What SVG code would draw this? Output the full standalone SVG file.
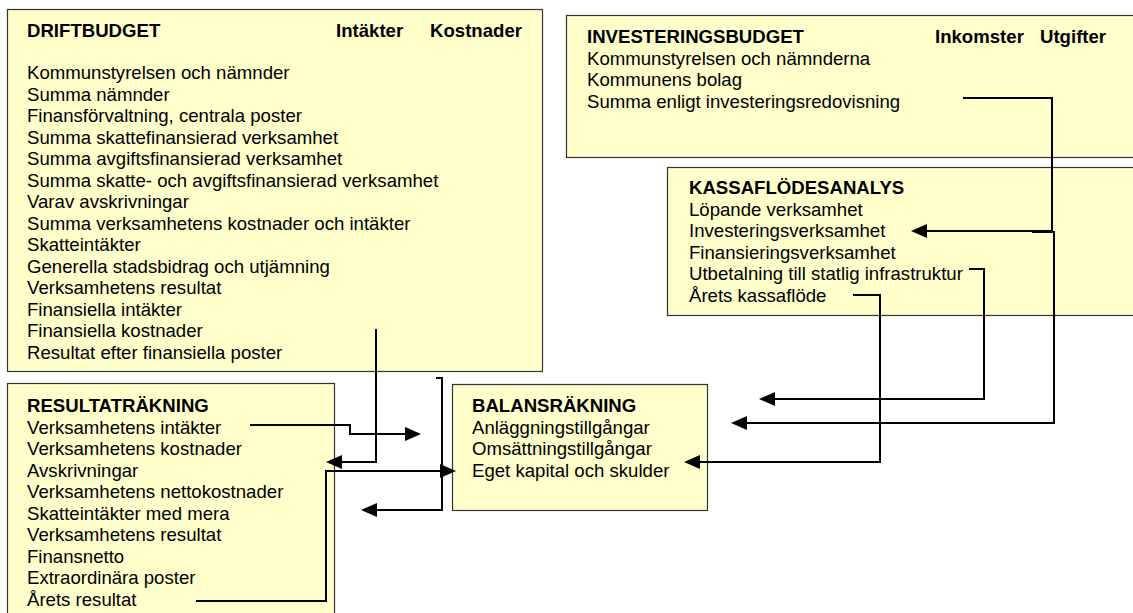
<svg xmlns="http://www.w3.org/2000/svg" width="1133" height="613" viewBox="0 0 1133 613">
<defs>
<style>
.box{fill:#FFFFCC;stroke:#333;stroke-width:1.2}
text{font-family:"Liberation Sans",Arial,sans-serif;font-size:18.6px;fill:#000}
.b{font-weight:bold}
.c{fill:none;stroke:#000;stroke-width:2}
</style>
<marker id="ah" markerUnits="userSpaceOnUse" markerWidth="16" markerHeight="14" refX="8" refY="7" orient="auto">
<path d="M0,0 L16,7 L0,14 z" fill="#000"/>
</marker>
</defs>
<rect width="1133" height="613" fill="#fff"/>

<g id="driftbudget">
<rect class="box" x="7.5" y="9.5" width="535" height="362"/>
<text class="b" x="27" y="37">DRIFTBUDGET</text>
<text class="b" x="336" y="37">Intäkter</text>
<text class="b" x="430" y="37">Kostnader</text>
<text x="27" y="79">Kommunstyrelsen och nämnder</text>
<text x="27" y="100.5">Summa nämnder</text>
<text x="27" y="122">Finansförvaltning, centrala poster</text>
<text x="27" y="143.5">Summa skattefinansierad verksamhet</text>
<text x="27" y="165">Summa avgiftsfinansierad verksamhet</text>
<text x="27" y="186.5">Summa skatte- och avgiftsfinansierad verksamhet</text>
<text x="27" y="208">Varav avskrivningar</text>
<text x="27" y="229.5">Summa verksamhetens kostnader och intäkter</text>
<text x="27" y="251">Skatteintäkter</text>
<text x="27" y="272.5">Generella stadsbidrag och utjämning</text>
<text x="27" y="294">Verksamhetens resultat</text>
<text x="27" y="315.5">Finansiella intäkter</text>
<text x="27" y="337">Finansiella kostnader</text>
<text x="27" y="358.5">Resultat efter finansiella poster</text>
</g>

<g id="investeringsbudget">
<rect class="box" x="566.5" y="15.5" width="580" height="142"/>
<text class="b" x="587" y="43">INVESTERINGSBUDGET</text>
<text class="b" x="935" y="43">Inkomster</text>
<text class="b" x="1040" y="43">Utgifter</text>
<text x="587" y="64.5">Kommunstyrelsen och nämnderna</text>
<text x="587" y="86">Kommunens bolag</text>
<text x="587" y="107.5">Summa enligt investeringsredovisning</text>
</g>

<g id="kassaflodesanalys">
<rect class="box" x="667.5" y="167.5" width="480" height="148"/>
<text class="b" x="689" y="194">KASSAFLÖDESANALYS</text>
<text x="689" y="215.5">Löpande verksamhet</text>
<text x="689" y="237">Investeringsverksamhet</text>
<text x="689" y="258.5">Finansieringsverksamhet</text>
<text x="689" y="280">Utbetalning till statlig infrastruktur</text>
<text x="689" y="301.5">Årets kassaflöde</text>
</g>

<g id="resultatrakning">
<rect class="box" x="7.5" y="383.5" width="327" height="240"/>
<text class="b" x="27" y="412">RESULTATRÄKNING</text>
<text x="27" y="433.5">Verksamhetens intäkter</text>
<text x="27" y="455">Verksamhetens kostnader</text>
<text x="27" y="476.5">Avskrivningar</text>
<text x="27" y="498">Verksamhetens nettokostnader</text>
<text x="27" y="519.5">Skatteintäkter med mera</text>
<text x="27" y="541">Verksamhetens resultat</text>
<text x="27" y="562.5">Finansnetto</text>
<text x="27" y="584">Extraordinära poster</text>
<text x="27" y="605.5">Årets resultat</text>
</g>

<g id="balansrakning">
<rect class="box" x="452.5" y="384.5" width="255" height="126"/>
<text class="b" x="472" y="412">BALANSRÄKNING</text>
<text x="472" y="433.5">Anläggningstillgångar</text>
<text x="472" y="455">Omsättningstillgångar</text>
<text x="472" y="476.5">Eget kapital och skulder</text>
</g>

<g id="connectors">
<path class="c" d="M376,329 V462 H334" marker-end="url(#ah)"/>
<path class="c" d="M250,425 H350 V434 H413" marker-end="url(#ah)"/>
<path class="c" d="M196,601 H326 V471 H448" marker-end="url(#ah)"/>
<path class="c" d="M436,378 H442 V510 H369" marker-end="url(#ah)"/>
<path class="c" d="M963,98 H1052 V231 H919" marker-end="url(#ah)"/>
<path class="c" d="M1032,232 H1054 V423 H739" marker-end="url(#ah)"/>
<path class="c" d="M969,269 H984 V399 H767" marker-end="url(#ah)"/>
<path class="c" d="M853,295 H880 V462 H692" marker-end="url(#ah)"/>
</g>
</svg>
